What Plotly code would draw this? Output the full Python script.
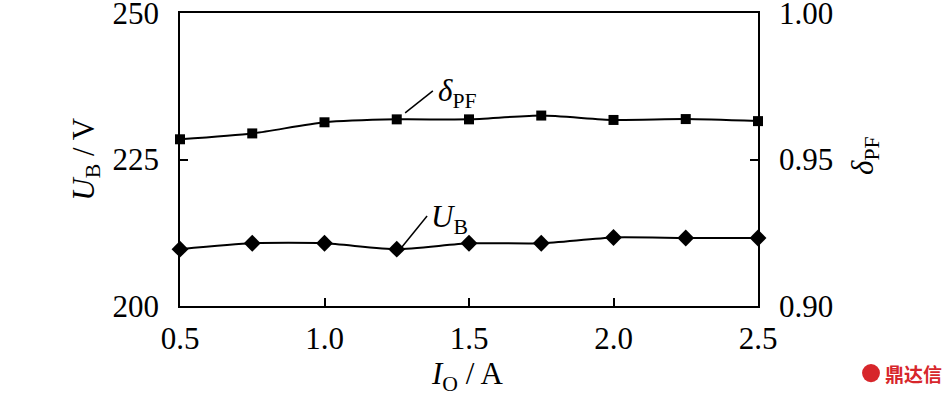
import plotly.graph_objects as go

# Data
current_A = [0.5, 0.75, 1.0, 1.25, 1.5, 1.75, 2.0, 2.25, 2.5]
voltage_UB = [209.7, 210.7, 210.7, 209.7, 210.7, 210.7, 211.7, 211.6, 211.6]
power_factor = [0.9569, 0.9589, 0.9627, 0.9637, 0.9637, 0.9650, 0.9635, 0.9638, 0.9631]

x_ticks = [0.5, 1.0, 1.5, 2.0, 2.5]
x_ticktext = ["0.5", "1.0", "1.5", "2.0", "2.5"]
y_ticks = [200, 225, 250]
y_ticktext = ["200", "225", "250"]
y2_ticks = [0.90, 0.95, 1.00]
y2_ticktext = ["0.90", "0.95", "1.00"]

FONT = "Liberation Serif"
FS = 31

fig = go.Figure()
fig.add_trace(go.Scatter(
    x=current_A, y=voltage_UB, mode="lines+markers",
    line=dict(color="black", width=2, shape="spline", smoothing=0.6),
    marker=dict(symbol="diamond", size=13, color="black"),
    yaxis="y", showlegend=False, cliponaxis=False))
fig.add_trace(go.Scatter(
    x=current_A, y=power_factor, mode="lines+markers",
    line=dict(color="black", width=2, shape="spline", smoothing=0.6),
    marker=dict(symbol="square", size=10, color="black"),
    yaxis="y2", showlegend=False, cliponaxis=False))

axis_common = dict(showline=True, linecolor="black", linewidth=1.5,
                   ticks="inside", ticklen=8, tickwidth=1.5, tickcolor="black",
                   showgrid=False, zeroline=False, ticklabeloverflow="allow",
                   automargin=False,
                   tickfont=dict(family=FONT, size=FS, color="black"))

fig.update_layout(
    width=947, height=396,
    margin=dict(l=180, r=189, t=13, b=90),
    paper_bgcolor="white", plot_bgcolor="white",
    xaxis=dict(range=[0.5, 2.5], tickvals=x_ticks, ticktext=x_ticktext,
               mirror=True, ticklabelstandoff=4, **axis_common),
    yaxis=dict(range=[200, 250], tickvals=y_ticks, ticktext=y_ticktext,
               ticklabelstandoff=13, **axis_common),
    yaxis2=dict(range=[0.90, 1.00], tickvals=y2_ticks, ticktext=y2_ticktext,
                overlaying="y", side="right", ticklabelstandoff=13, **axis_common),
)

# leader lines
fig.add_shape(type="line", xref="x", yref="y2", x0=1.279, y0=0.9659, x1=1.375, y1=0.9734,
              line=dict(color="black", width=1.5))
fig.add_shape(type="line", xref="x", yref="y", x0=1.268, y0=210.07, x1=1.355, y1=215.36,
              line=dict(color="black", width=1.5))

fig.add_annotation(x=1.385, y=0.9727, xref="x", yref="y2", xanchor="left", yanchor="middle",
                   text="<i>δ</i><sub>PF</sub>", showarrow=False,
                   font=dict(family=FONT, size=FS, color="black"))
fig.add_annotation(x=1.362, y=214.9, xref="x", yref="y", xanchor="left", yanchor="middle",
                   text="<i>U</i><sub>B</sub>", showarrow=False,
                   font=dict(family=FONT, size=FS, color="black"))

# axis titles
fig.add_annotation(x=-0.164, y=0.5, xref="paper", yref="paper", textangle=-90,
                   text="<i>U</i><sub>B</sub> / V", showarrow=False,
                   xanchor="center", yanchor="middle",
                   font=dict(family=FONT, size=FS, color="black"))
fig.add_annotation(x=1.185, y=0.515, xref="paper", yref="paper", textangle=-90,
                   text="<i>δ</i><sub>PF</sub>", showarrow=False,
                   xanchor="center", yanchor="middle",
                   font=dict(family=FONT, size=FS, color="black"))
fig.add_annotation(x=0.497, y=-0.24, xref="paper", yref="paper",
                   text="<i>I</i><sub>O</sub> / A", showarrow=False,
                   xanchor="center", yanchor="middle",
                   font=dict(family=FONT, size=FS, color="black"))

# watermark
fig.add_shape(type="circle", xref="paper", yref="paper",
              x0=1.180, x1=1.211, y0=-0.260, y1=-0.198,
              fillcolor="#d7262b", line=dict(color="#d7262b", width=0))
fig.add_annotation(x=1.216, y=-0.229, xref="paper", yref="paper", text="<b>鼎达信</b>",
                   showarrow=False, xanchor="left", yanchor="middle",
                   font=dict(family="Noto Sans CJK SC", size=19, color="#d7262b"))

fig.write_html("out.html", config={"displayModeBar": False},
               post_script="document.body.style.margin='0px';")
